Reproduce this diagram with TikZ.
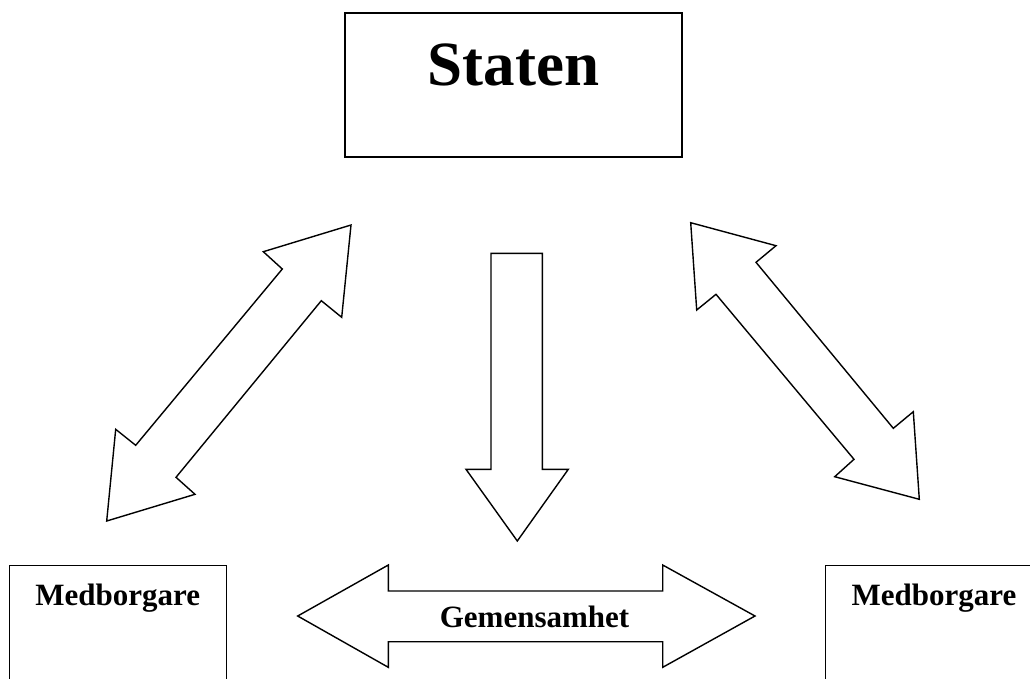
\documentclass[tikz,border=0pt]{standalone}
\usepackage{fontspec}
\setmainfont{Liberation Serif}
\begin{document}
\begin{tikzpicture}[x=1pt,y=-1pt,
  outline/.style={draw=black,line width=1.4pt,line join=miter,fill=white},
  boxnode/.style={outline,rectangle,inner sep=0pt},
  bigtext/.style={font=\fontsize{63}{70}\selectfont\bfseries,inner sep=0pt},
  midtext/.style={font=\fontsize{31}{36}\selectfont\bfseries,inner sep=0pt}]
\clip (0,0) rectangle (1030,678);
\fill[white] (0,0) rectangle (1030,678);
% Staten box
\node[boxnode,minimum width=337pt,minimum height=144pt] (staten) at (513.5,85) {};
\node[bigtext,anchor=base] (statenlbl) at (staten.center) {Staten};
% Medborgare boxes (extend beyond bottom edge)
\node[boxnode,minimum width=217pt,minimum height=170pt,anchor=north] (medL) at (117.7,565) {};
\node[midtext,anchor=base] (medLlbl) at (117.7,605) {Medborgare};
\node[boxnode,minimum width=217pt,minimum height=170pt,anchor=north] (medR) at (934,565) {};
\node[midtext,anchor=base] (medRlbl) at (934,605) {Medborgare};
% left diagonal double arrow
\draw[outline] (351,225) -- (263.3,251.7) -- (282.3,269) -- (135.7,445.3) -- (115.7,429.3)
  -- (106.7,521) -- (195,494.3) -- (176,477.3) -- (321.3,300.7) -- (341.7,317.3) -- cycle;
% right diagonal double arrow
\draw[outline] (690.7,222.7) -- (776,245.7) -- (756,262.3) -- (893.3,428.3) -- (913.3,411.7)
  -- (919.3,499.3) -- (834.7,476.7) -- (854,459.3) -- (716,294.3) -- (696.7,310) -- cycle;
% down arrow
\draw[outline] (491,253.3) -- (542.3,253.3) -- (542.3,469.3) -- (568.3,469.3) -- (517.3,541)
  -- (466,469.3) -- (491,469.3) -- cycle;
% bottom double arrow
\draw[outline] (297.7,616) -- (388.3,565) -- (388.3,591) -- (662.7,591) -- (662.7,565)
  -- (755,616) -- (662.7,667.3) -- (662.7,641.7) -- (388.3,641.7) -- (388.3,667.3) -- cycle;
\node[midtext,anchor=base] (gemlbl) at (534.5,627) {Gemensamhet};
\end{tikzpicture}
\end{document}
